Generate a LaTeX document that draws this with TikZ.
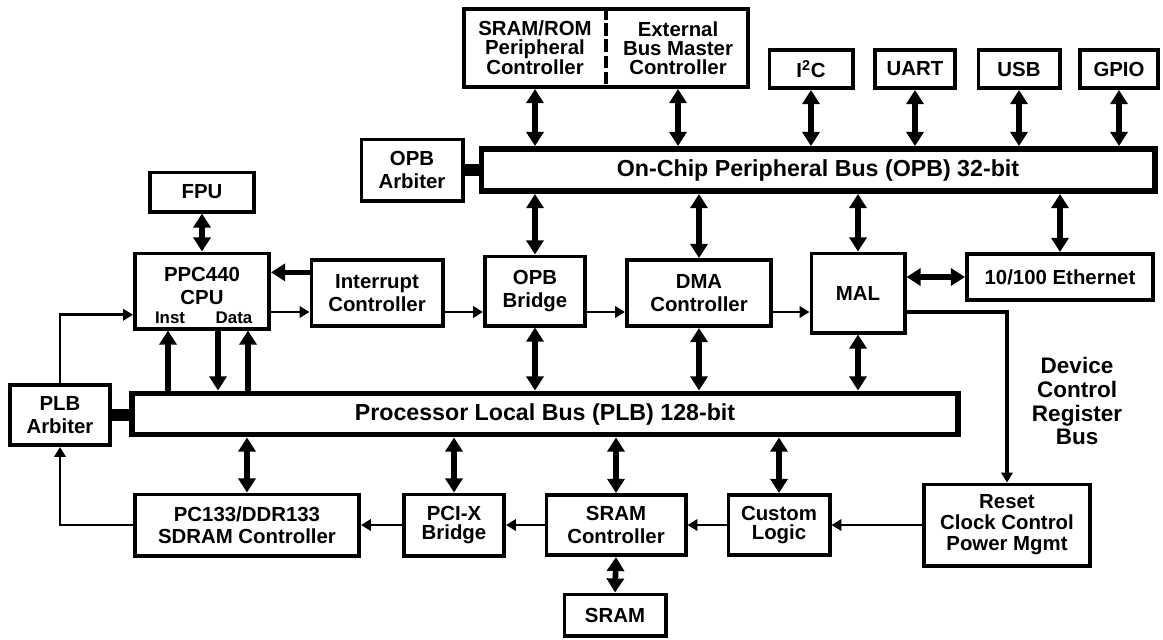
\documentclass[tikz,border=0pt]{standalone}
\usepackage{fontspec}
\setmainfont{Liberation Sans}
\usetikzlibrary{arrows.meta}
\newcommand{\pxu}{0.025cm}

\begin{document}
\begin{tikzpicture}[x=\pxu, y=-\pxu,
  blk/.style={draw, line width=2.8pt, align=center, inner sep=1pt,
              font=\fontsize{14.5}{16}\selectfont\bfseries},
  tight/.style={font=\fontsize{14.5}{13.5}\selectfont\bfseries},
  sz/.style 2 args={minimum width=#1*\pxu-2.8pt, minimum height=#2*\pxu-2.8pt},
  bus/.style={draw, line width=4.2pt, inner sep=1pt,
              font=\fontsize{16.5}{18}\selectfont\bfseries},
  lbl/.style={align=center, inner sep=0pt, font=\fontsize{14.5}{16}\selectfont\bfseries},
  bi/.style={{Triangle[length=10pt,width=12pt]}-{Triangle[length=10pt,width=12pt]}, line width=4pt},
  one/.style={-{Triangle[length=10pt,width=12pt]}, line width=4pt},
  sig/.style={-{Triangle[length=7pt,width=8pt]}, line width=2pt},
  dcr/.style={-{Triangle[length=7pt,width=8pt]}, line width=3pt},
  stub/.style={line width=8pt}
]
  \useasboundingbox (0,0) rectangle (1163,639);

  % Top row: OPB peripherals
  \node[blk, sz={288}{82}] (per) at (606,48) {};
  \node[lbl, tight] (perL) at (535,48) {SRAM/ROM\\Peripheral\\Controller};
  \node[lbl, tight] (perR) at (678,48) {External\\Bus Master\\Controller};
  \draw[line width=2.8pt, dash pattern=on 9pt off 2.5pt] (per.north) -- (per.south);
  \node[blk, sz={87}{42}] (i2c)  at (811,69)  {I\textsuperscript{2}C};
  \node[blk, sz={84}{42}] (uart) at (915,69)  {UART};
  \node[blk, sz={85}{42}] (usb)  at (1019,69) {USB};
  \node[blk, sz={82}{42}] (gpio) at (1119,69) {GPIO};

  % OPB and its arbiter
  \node[bus, sz={677}{46}] (opb) at (818,170) {On-Chip Peripheral Bus (OPB) 32-bit};
  \node[blk, sz={105}{65}] (opbarb) at (412,170) {OPB\\Arbiter};

  % Middle row
  \node[blk, sz={108}{43}] (fpu) at (202,192) {FPU};
  \node[blk, sz={138}{79}] (cpu) at (202,291) {};
  \node[lbl] (cpulab) at (202,286) {PPC440\\CPU};
  \node[lbl, font=\fontsize{12}{13}\selectfont\bfseries] (inst) at (170,318) {Inst};
  \node[lbl, font=\fontsize{12}{13}\selectfont\bfseries] (data) at (234,318) {Data};
  \node[blk, sz={135}{70}] (intc)  at (377,293) {Interrupt\\Controller};
  \node[blk, sz={104}{73}] (opbbr) at (535,291) {OPB\\Bridge};
  \node[blk, sz={148}{70}] (dma)   at (699,293) {DMA\\Controller};
  \node[blk, sz={97}{83}]  (mal)   at (858,293) {MAL};
  \node[blk, sz={190}{50}] (eth)   at (1060,277) {10/100 Ethernet};
  \node[lbl, font=\fontsize{16}{17}\selectfont\bfseries] (dcrlab) at (1077,401)
    {Device\\Control\\Register\\Bus};

  % PLB and its arbiter
  \node[blk, sz={104}{64}] (plbarb) at (60,415) {PLB\\Arbiter};
  \node[bus, sz={830}{45}] (plb) at (545,414) {Processor Local Bus (PLB) 128-bit};

  % Bottom row
  \node[blk, sz={228}{65}] (sdram) at (247,525) {PC133/DDR133\\SDRAM Controller};
  \node[blk, tight, sz={104}{65}] (pcix) at (454,525) {PCI-X\\Bridge};
  \node[blk, sz={143}{64}] (sramc) at (616,525) {SRAM\\Controller};
  \node[blk, tight, sz={105}{64}] (cust) at (779,525) {Custom\\Logic};
  \node[blk, font=\fontsize{14.5}{15}\selectfont\bfseries, sz={170}{85}] (reset) at (1007,525)
    {Reset\\Clock Control\\Power Mgmt};
  \node[blk, sz={105}{45}] (sram) at (615,615) {SRAM};

  \coordinate (dcrrow) at (0,312);

  % OPB connections
  \draw[bi] (per.south -| perL) -- (opb.north -| perL);
  \draw[bi] (per.south -| perR) -- (opb.north -| perR);
  \foreach \n in {i2c,uart,usb,gpio}
    \draw[bi] (\n.south) -- (\n.south |- opb.north);
  \foreach \n in {opbbr,dma,mal,eth}
    \draw[bi] (\n.north) -- (\n.north |- opb.south);
  \draw[stub] (opbarb.east) -- (opbarb.east -| opb.west);

  % PLB connections
  \foreach \n in {opbbr,dma,mal}
    \draw[bi] (\n.south) -- (\n.south |- plb.north);
  \foreach \n in {sdram,pcix,sramc,cust}
    \draw[bi] (\n.north) -- (\n.north |- plb.south);
  \draw[bi] (sramc.south) -- (sram.north);
  \draw[stub] (plbarb.east) -- (plbarb.east -| plb.west);

  % CPU
  \draw[bi] (fpu.south) -- (cpu.north);
  \draw[one] ([xshift=-34*\pxu]cpu.south |- plb.north) -- ([xshift=-34*\pxu]cpu.south);
  \draw[one] ([xshift=16*\pxu]cpu.south) -- ([xshift=16*\pxu]cpu.south |- plb.north);
  \draw[one] ([xshift=46*\pxu]cpu.south |- plb.north) -- ([xshift=46*\pxu]cpu.south);
  \draw[one] (intc.163) -- (intc.163 -| cpu.east);
  \draw[bi] (eth.west) -- (eth.west -| mal.east);

  % Device control register bus chain
  \draw[sig] (cpu.east |- dcrrow) -- (intc.west |- dcrrow);
  \draw[sig] (intc.east |- dcrrow) -- (opbbr.west |- dcrrow);
  \draw[sig] (opbbr.east |- dcrrow) -- (dma.west |- dcrrow);
  \draw[sig] (dma.east |- dcrrow) -- (mal.west |- dcrrow);
  \draw[dcr] (mal.east |- dcrrow) -| (reset.north);
  \draw[sig] (reset.west) -- (reset.west -| cust.east);
  \draw[sig] (cust.west) -- (cust.west -| sramc.east);
  \draw[sig] (sramc.west) -- (sramc.west -| pcix.east);
  \draw[sig] (pcix.west) -- (pcix.west -| sdram.east);
  \draw[sig] (sdram.west) -| (plbarb.south);
  \draw[sig] (plbarb.north) |- (cpu.199);
\end{tikzpicture}
\end{document}
